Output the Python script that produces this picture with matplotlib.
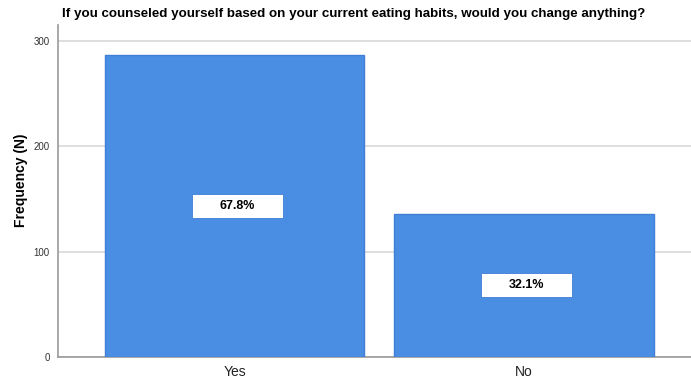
import matplotlib.pyplot as plt
from matplotlib.patches import Rectangle

# survey answers
categories = ['Yes', 'No']
counts = [287, 136]
pct_labels = ['67.8%', '32.1%']
yticks = [0, 100, 200, 300]

bar_color = '#4a8ee4'
edge_color = '#3f7fd6'

fig = plt.figure(figsize=(6.91, 3.78), dpi=100)
# axes placed in pixel terms: left 58, right 691, bottom 357, top 25
ax = fig.add_axes([58/691, (378-357)/378, (691-58)/691, (357-25)/378])

x = list(range(len(categories)))
ax.bar(x, counts, width=0.895, color=bar_color, edgecolor=edge_color,
       linewidth=1.0, zorder=3)

# white label boxes at mid-height of each bar
box_w, box_h = 0.314, 23
for xi, c, lab in zip(x, counts, pct_labels):
    yc = c / 2
    ax.add_patch(Rectangle((xi + 0.01 - box_w/2, yc - box_h/2), box_w, box_h,
                           facecolor='white', edgecolor='#3f7fd6',
                           linewidth=0.6, zorder=4))
    ax.text(xi + 0.01, yc, lab, ha='center', va='center', fontsize=9,
            fontweight='bold', family='Liberation Sans', zorder=5)

ax.set_xlim(-0.61, 1.577)
ax.set_ylim(0, 315)
ax.set_xticks(x)
ax.set_xticklabels(categories, fontsize=10, family='Liberation Sans',
                   color='#222222')
ax.set_yticks(yticks)
ax.set_yticklabels([str(v) for v in yticks], fontsize=7,
                   family='Liberation Sans', color='#333333')
ax.tick_params(axis='both', length=0, pad=6)

ax.yaxis.grid(True, color='#d8d8d8', linewidth=1.2, zorder=0)
ax.set_axisbelow(True)

for s in ['top', 'right']:
    ax.spines[s].set_visible(False)
for s in ['left', 'bottom']:
    ax.spines[s].set_color('#999999')
    ax.spines[s].set_linewidth(1.2)

ax.set_ylabel('Frequency (N)', fontsize=10, fontweight='bold',
              family='Liberation Sans')
ax.yaxis.set_label_coords(-0.048, 0.533)

fig.text(354/691, 1 - 14/378,
         'If you counseled yourself based on your current eating habits, would you change anything?',
         ha='center', va='center', fontsize=9.6, fontweight='bold',
         family='Liberation Sans')

fig.savefig('out.png', dpi=100)
